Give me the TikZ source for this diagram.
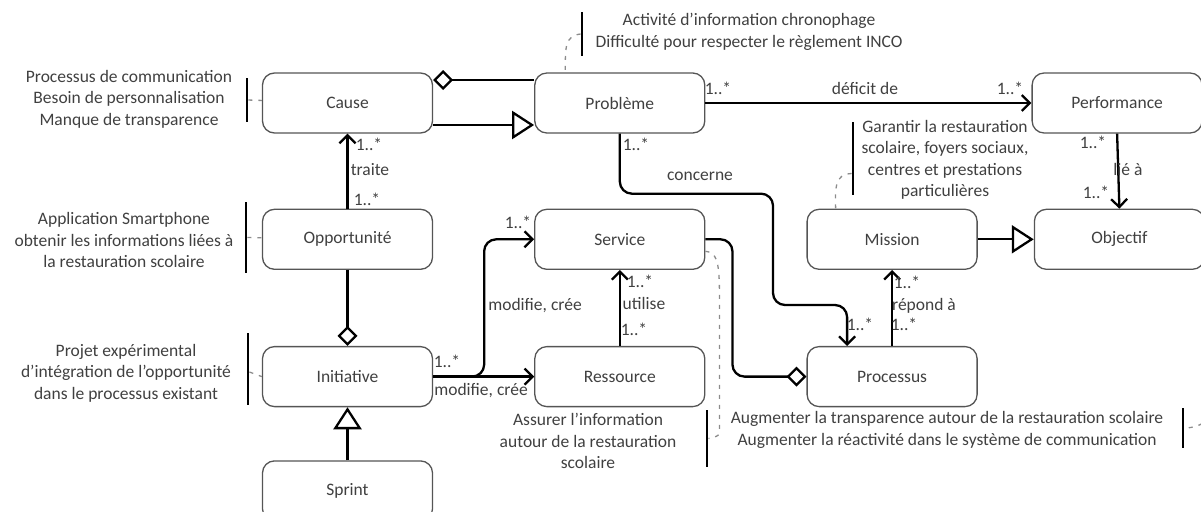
\documentclass[tikz,border=0pt]{standalone}
\usepackage{fontspec}
\setmainfont{Carlito}
\usetikzlibrary{arrows.meta, positioning}
\definecolor{inktext}{RGB}{64,64,64}
\definecolor{boxline}{RGB}{85,85,85}

\begin{document}
\begin{tikzpicture}[
  x=1pt, y=-1pt,
  every node/.style={font=\fontsize{17.5}{21.5}\selectfont, text=inktext},
  cls/.style={rectangle, rounded corners=12pt, draw=boxline, line width=1.3pt, fill=white,
              minimum width=170pt, minimum height=60pt},
  link/.style={line width=2.3pt, black, line join=round},
  assoc/.style={link, -{Straight Barb[length=8pt, width=16pt]}},
  aggr/.style={link, -{Diamond[open, length=20pt, width=20pt]}},
  gen/.style={link, -{Triangle[open, length=22pt, width=28pt]}},
  mult/.style={inner sep=0pt, text height=11pt, text depth=0pt},
  note/.style={align=center, inner sep=0pt},
  notebar/.style={fill=black, inner sep=0pt, minimum width=2.5pt},
  notelink/.style={line width=1.3pt, black!45, dash pattern=on 4pt off 6pt}
]
\useasboundingbox (0,0) rectangle (1201,511);
\clip (0,0) rectangle (1201,511);

% classes
\node[cls] (cause) at (347.5,103) {Cause};
\node[cls, right=101pt of cause]     (problem)    {Problème};
\node[cls, right=326pt of problem]   (perf)       {Performance};
\node[cls, below=75pt of cause]      (opport)     {Opportunité};
\node[cls, below=75pt of problem]    (service)    {Service};
\node[cls, right=101pt of service]   (mission)    {Mission};
\node[cls, right=56pt of mission]    (objectif)   {Objectif};
\node[cls, below=76pt of opport]     (initiative) {Initiative};
\node[cls, right=101pt of initiative](ressource)  {Ressource};
\node[cls, right=101pt of ressource] (processus)  {Processus};
\node[cls, below=53pt of initiative] (sprint)     {Sprint};

% relations
\draw[aggr] ([yshift=23pt]problem.west) -- ([yshift=23pt]cause.east);
\draw[gen] ([yshift=-22pt]cause.east) -- ([yshift=-22pt]problem.west);
\draw[assoc] (problem.east) -- (perf.west);
\draw[assoc, rounded corners=12pt] (problem.south) -- ++(0,60) -| (773,305) -| ([xshift=-45pt]processus.north);
\draw[assoc] (opport.north) -- (cause.south);
\draw[aggr] (opport.south) -- (initiative.north);
\draw[gen] (sprint.north) -- (initiative.south);
\draw[assoc, rounded corners=12pt] (initiative.east) -- ++(51,0) |- (service.west);
\draw[assoc] (initiative.east) -- (ressource.west);
\draw[assoc] (ressource.north) -- (service.south);
\draw[aggr, rounded corners=12pt] (service.east) -- ++(27,0) |- (processus.west);
\draw[assoc] (processus.north) -- (mission.south);
\draw[gen] (mission.east) -- (objectif.west);
\draw[assoc] (perf.south) -- (objectif.north);

% multiplicities and roles
\node[mult] (pm1)   at (718,89)   {1..*};
\node[mult] (pmlab) at (865,89)   {déficit de};
\node[mult] (pm2)   at (1010,89)  {1..*};
\node[mult] (pc1)   at (636,145)  {1..*};
\node[mult] (pclab) at (700,175)  {concerne};
\node[mult] (pc2)   at (860,325)  {1..*};
\node[mult] (oc1)   at (369,145)  {1..*};
\node[mult] (oclab) at (370,170)  {traite};
\node[mult] (oc2)   at (367,200)  {1..*};
\node[mult] (is1)   at (518,223)  {1..*};
\node[mult] (islab) at (535,305)  {modifie, crée};
\node[mult] (ir1)   at (447,362)  {1..*};
\node[mult] (irlab) at (481,390)  {modifie, crée};
\node[mult] (rs1)   at (640,282)  {1..*};
\node[mult] (rslab) at (644,304)  {utilise};
\node[mult] (rs2)   at (634,330)  {1..*};
\node[mult] (pr1)   at (907,283)  {1..*};
\node[mult] (prlab) at (924,305)  {répond à};
\node[mult] (pr2)   at (904,325)  {1..*};
\node[mult] (po1)   at (1093,143) {1..*};
\node[mult] (polab) at (1128,170) {lié à};
\node[mult] (po2)   at (1096,193) {1..*};

% notes
\node[note] (causenote) at (129,99) {Processus de communication\\Besoin de personnalisation\\Manque de transparence};
\node[notebar, minimum height=44pt] (causebar) at (247,100) {};
\draw[notelink] (causebar) -- (cause);

\node[note] (opportnote) at (124,240) {Application Smartphone\\obtenir les informations liées à\\la restauration scolaire};
\node[notebar, minimum height=71pt] (opportbar) at (246,237.5) {};
\draw[notelink] (opportbar) -- (opport);

\node[note] (initnote) at (126,373) {Projet expérimental\\d'intégration de l'opportunité\\dans le processus existant};
\node[notebar, minimum height=72pt] (initbar) at (248,369) {};
\draw[notelink] ([yshift=-3pt]initbar.east) -- (initiative.west);

\node[note] (problemnote) at (749,32) {Activité d'information chronophage\\Difficulté pour respecter le règlement INCO};
\node[notebar, minimum height=44pt] (problembar) at (582,34) {};
\draw[notelink] (problembar.west) .. controls +(-16,2) and +(0,-25) .. ([xshift=-54.5pt]problem.north);

\node[note] (missionnote) at (945,160) {Garantir la restauration\\scolaire, foyers sociaux,\\centres et prestations\\particulières};
\node[notebar, minimum height=73pt] (missionbar) at (853,158.5) {};
\draw[notelink] ([yshift=-15pt]missionbar.west) .. controls +(-18,1) and +(0,-20) .. ([xshift=-56.5pt]mission.north);

\node[note] (servicenote) at (588,441) {Assurer l'information\\autour de la restauration\\scolaire};
\node[notebar, minimum height=57pt] (servicebar) at (707,438.5) {};
\draw[notelink] ([yshift=-12pt]service.east) .. controls +(14,0) and +(0,-30) .. ++(14,50)
  -- ++(0,125) .. controls +(0,10) .. (servicebar.east);

\node[note] (objnote) at (947,430) {Augmenter la transparence autour de la restauration scolaire\\Augmenter la réactivité dans le système de communication};
\node[notebar, minimum height=40pt] (objbar) at (1183,428) {};
\draw[notelink] (objectif.east) .. controls +(70,0) and +(70,0) .. (objbar.east);
\end{tikzpicture}
\end{document}
